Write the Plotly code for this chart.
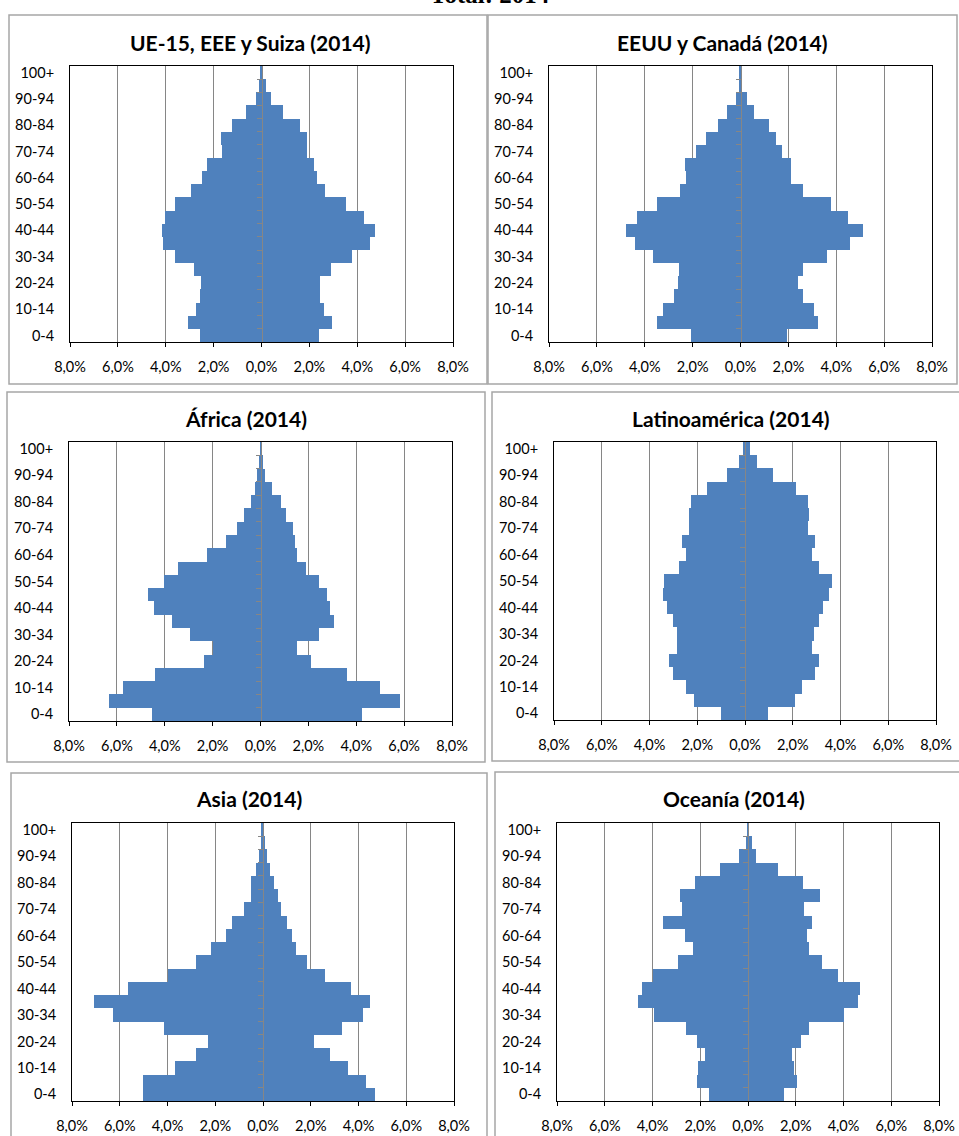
import plotly.graph_objects as go

# ---------------- data ----------------
categorias = ["0-4", "5-9", "10-14", "15-19", "20-24", "25-29", "30-34", "35-39",
              "40-44", "45-49", "50-54", "55-59", "60-64", "65-69", "70-74", "75-79",
              "80-84", "85-89", "90-94", "95-99", "100+"]

x_ticks = [-8, -6, -4, -2, 0, 2, 4, 6, 8]
x_tick_text = ["8,0%", "6,0%", "4,0%", "2,0%", "0,0%", "2,0%", "4,0%", "6,0%", "8,0%"]

titulos = ["UE-15, EEE y Suiza (2014)", "EEUU y Canadá (2014)", "África (2014)",
           "Latinoamérica (2014)", "Asia (2014)", "Oceanía (2014)"]

# left side (ordered 0-4 ... 100+)
ue15_izq = [2.55, 3.09, 2.74, 2.55, 2.51, 2.80, 3.61, 4.11, 4.15, 4.05, 3.61,
            2.95, 2.49, 2.28, 1.64, 1.70, 1.23, 0.64, 0.24, 0.10, 0.05]
ue15_der = [2.40, 2.95, 2.59, 2.45, 2.45, 2.90, 3.76, 4.55, 4.76, 4.30, 3.51,
            2.66, 2.30, 2.20, 1.91, 1.88, 1.60, 0.91, 0.40, 0.17, 0.07]

eeuu_izq = [2.06, 3.50, 3.25, 2.77, 2.61, 2.57, 3.67, 4.42, 4.77, 4.33, 3.50,
            2.52, 2.27, 2.31, 1.86, 1.45, 0.96, 0.56, 0.17, 0.07, 0.06]
eeuu_der = [1.93, 3.24, 3.09, 2.61, 2.42, 2.61, 3.63, 4.58, 5.13, 4.49, 3.78,
            2.61, 2.13, 2.13, 1.74, 1.49, 1.18, 0.58, 0.28, 0.08, 0.08]

africa_izq = [4.54, 6.31, 5.75, 4.39, 2.34, 1.99, 2.94, 3.69, 4.44, 4.69, 4.05,
              3.44, 2.24, 1.43, 0.99, 0.68, 0.39, 0.24, 0.14, 0.04, 0.02]
africa_der = [4.26, 5.82, 5.01, 3.61, 2.10, 1.52, 2.45, 3.06, 2.91, 2.76, 2.45,
              1.91, 1.52, 1.45, 1.35, 1.06, 0.86, 0.46, 0.17, 0.11, 0.05]

latam_izq = [1.02, 2.12, 2.47, 3.03, 3.18, 2.84, 2.84, 3.03, 3.28, 3.44, 3.38,
             2.78, 2.47, 2.63, 2.36, 2.36, 2.26, 1.61, 0.77, 0.25, 0.08]
latam_der = [0.98, 2.08, 2.37, 2.93, 3.09, 2.79, 2.89, 3.09, 3.28, 3.53, 3.63,
             3.09, 2.79, 2.93, 2.64, 2.68, 2.64, 2.12, 1.17, 0.52, 0.22]

asia_izq = [5.02, 5.02, 3.67, 2.82, 2.31, 4.13, 6.29, 7.08, 5.67, 3.97, 2.82,
            2.16, 1.56, 1.31, 0.81, 0.50, 0.50, 0.31, 0.17, 0.08, 0.06]
asia_der = [4.70, 4.33, 3.54, 2.79, 2.13, 3.29, 4.20, 4.49, 3.69, 2.59, 1.84,
            1.39, 1.20, 0.99, 0.74, 0.64, 0.45, 0.28, 0.18, 0.10, 0.03]

oceania_izq = [1.64, 2.15, 2.09, 1.80, 2.15, 2.59, 3.94, 4.60, 4.45, 4.00, 2.94,
               2.30, 2.65, 3.54, 2.75, 2.84, 2.24, 1.18, 0.38, 0.08, 0.04]
oceania_der = [1.51, 2.05, 1.91, 1.85, 2.20, 2.56, 4.00, 4.61, 4.71, 3.76, 3.11,
               2.56, 2.47, 2.66, 2.36, 3.01, 2.30, 1.25, 0.35, 0.15, 0.04]

series = [(ue15_izq, ue15_der), (eeuu_izq, eeuu_der), (africa_izq, africa_der),
          (latam_izq, latam_der), (asia_izq, asia_der), (oceania_izq, oceania_der)]

# ---------------- layout geometry (pixels) ----------------
W, H = 959, 1136
plot_px = [(70, 453, 66, 342), (549, 932, 66, 342),
           (69, 452, 442, 721), (554, 936, 442, 720),
           (72, 454, 823, 1101), (557, 939, 823, 1101)]
box_px = [(9, 487, 15, 384), (488, 957, 15, 384),
          (7, 485, 392, 762), (492, 980, 392, 761),
          (11, 487, 773, 1150), (495, 980, 772, 1150)]
title_px = [(250, 42), (722, 42), (246, 419), (731, 418), (249, 798), (734, 798)]

def fx(px):
    return px / W

def fy(py):
    return 1 - py / H

BLUE = "#4F81BD"
GRID = "#868686"
FONT = "Lato"

fig = go.Figure()
layout = dict(
    template="none",
    width=W, height=H, autosize=False,
    margin=dict(l=0, r=0, t=0, b=0, pad=0),
    paper_bgcolor="white", plot_bgcolor="white",
    barmode="relative", bargap=0,
    showlegend=False,
    font=dict(family=FONT, size=14, color="black"),
)
shapes = []
annotations = []

for i, ((izq, der), (x0, x1, y0, y1)) in enumerate(zip(series, plot_px)):
    n = i + 1
    xa = "x" if n == 1 else f"x{n}"
    ya = "y" if n == 1 else f"y{n}"
    ya2 = f"y{6 + n}"
    fig.add_trace(go.Bar(y=categorias, x=[-v for v in izq], orientation="h",
                         marker=dict(color=BLUE, line=dict(width=0)),
                         xaxis=xa, yaxis=ya, hoverinfo="skip"))
    fig.add_trace(go.Bar(y=categorias, x=der, orientation="h",
                         marker=dict(color=BLUE, line=dict(width=0)),
                         xaxis=xa, yaxis=ya, hoverinfo="skip"))
    # empty trace so the zero-crossing category axis is drawn
    fig.add_trace(go.Scatter(x=[None], y=[None], xaxis=xa, yaxis=ya2,
                             showlegend=False, hoverinfo="skip"))

    xkey = "xaxis" if n == 1 else f"xaxis{n}"
    ykey = "yaxis" if n == 1 else f"yaxis{n}"
    layout[xkey] = dict(
        domain=[fx(x0), fx(x1)], anchor=ya, range=[-8, 8], automargin=False,
        tickmode="array", tickvals=x_ticks, ticktext=x_tick_text,
        showgrid=True, gridcolor=GRID, gridwidth=1, zeroline=False,
        showline=True, linecolor="black", linewidth=1, mirror=True,
        ticks="outside", ticklen=4, tickcolor="black", tickwidth=1,
        ticklabelstandoff=8, fixedrange=True,
        tickfont=dict(family=FONT, size=14.5, color="black"),
    )
    layout[ykey] = dict(
        domain=[fy(y1), fy(y0)], anchor=xa, type="category", automargin=False,
        categoryorder="array", categoryarray=categorias,
        range=[-0.5, len(categorias) - 0.5],
        tickmode="array", tickvals=categorias[::2],
        ticks="", showgrid=False, zeroline=False,
        showline=True, linecolor="black", linewidth=1, mirror=True,
        ticklabelstandoff=12, fixedrange=True,
        tickfont=dict(family=FONT, size=14.5, color="black"),
    )
    layout[f"yaxis{6 + n}"] = dict(
        overlaying=ya, anchor="free", position=fx((x0 + x1) / 2), side="left",
        range=[-0.5, len(categorias) - 0.5], automargin=False,
        tickmode="array", tickvals=[k + 0.5 for k in range(len(categorias) - 1)],
        ticks="outside", ticklen=5, tickcolor=GRID, tickwidth=1,
        showticklabels=False, showgrid=False, zeroline=False,
        showline=True, linecolor=GRID, linewidth=1, fixedrange=True,
    )

for (bx0, bx1, by0, by1) in box_px:
    shapes.append(dict(type="rect", xref="paper", yref="paper",
                       x0=fx(bx0), x1=fx(bx1), y0=fy(by1), y1=fy(by0),
                       line=dict(color="#A6A6A6", width=1.5), layer="below"))

for t, (tx, ty) in zip(titulos, title_px):
    annotations.append(dict(text=f"<b>{t}</b>", xref="paper", yref="paper",
                            x=fx(tx), y=fy(ty), xanchor="center", yanchor="middle",
                            showarrow=False, font=dict(family=FONT, size=21, color="black")))

annotations.append(dict(text="<b>Total: 2014</b>", xref="paper", yref="paper",
                        x=fx(490), y=fy(-5), xanchor="center", yanchor="middle",
                        showarrow=False,
                        font=dict(family="Liberation Serif", size=25, color="black")))

layout["shapes"] = shapes
layout["annotations"] = annotations
fig.update_layout(**layout)

fig.write_html("out.html", config={"displayModeBar": False},
               post_script="document.body.style.margin='0';document.body.style.overflow='hidden';")
